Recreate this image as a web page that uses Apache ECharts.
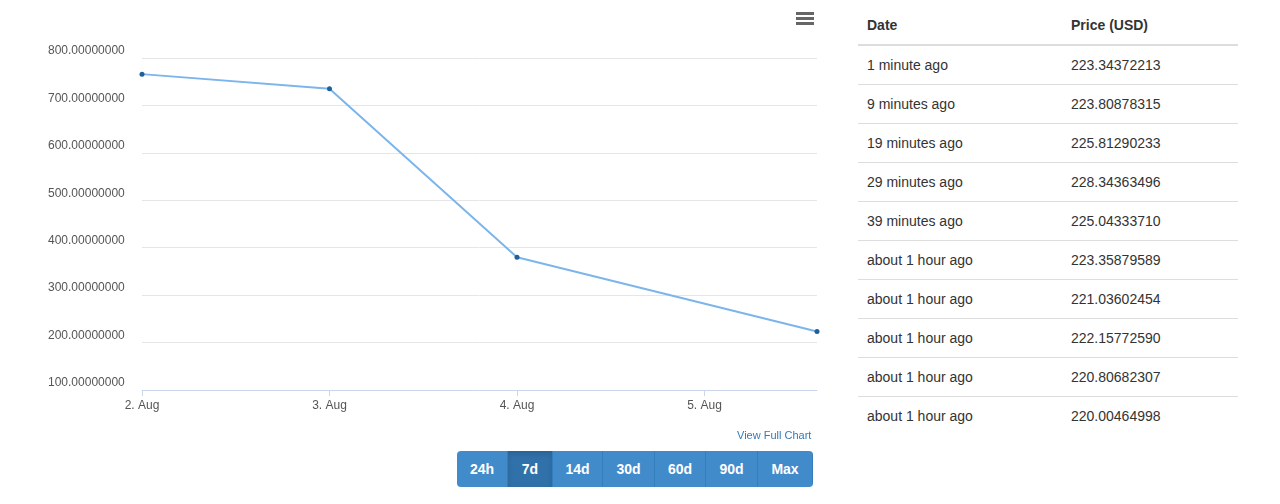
<!DOCTYPE html>
<html><head><meta charset="utf-8">
<script src="https://cdn.jsdelivr.net/npm/echarts@6/dist/echarts.min.js"></script>
<style>
body{margin:0;font-family:"Liberation Sans",Arial,sans-serif;color:#333;background:#fff}
#chart{position:absolute;left:0;top:0;width:830px;height:504px}
#menu{position:absolute;left:796px;top:12px;width:18px}
#menu div{height:3px;background:#666;margin-bottom:2px}
#link{position:absolute;left:737px;top:429px;font-size:11px;color:#337ab7}
#btns{position:absolute;left:457px;top:451px;display:flex;border-radius:4px;overflow:hidden}
#btns div{height:36px;line-height:36px;text-align:center;color:#fff;font-size:14px;font-weight:bold;background:#428bca;border-right:1px solid #357ebd;box-sizing:border-box}
#btns div.on{background:#3071a9;box-shadow:inset 0 3px 5px rgba(0,0,0,.125)}
table{position:absolute;left:858px;top:6px;width:380px;border-collapse:collapse;font-size:14px}
th{text-align:left;padding:10px 9px;border-bottom:2px solid #ddd;height:18px}
td{padding:10px 9px;border-top:1px solid #ddd;height:18px}
</style></head><body>
<div id="chart"></div>
<div id="menu"><div></div><div></div><div></div></div>
<div id="link">View Full Chart</div>
<div id="btns"></div>
<table id="tbl"><thead><tr><th style="width:186px">Date</th><th>Price (USD)</th></tr></thead><tbody></tbody></table>
<script>
var dayLabels = ['2. Aug', '3. Aug', '4. Aug', '5. Aug'];
var dayPos = [0, 1, 2, 3.6];
var prices = [766, 735, 380, 223.34];
var rangeButtons = ['24h', '7d', '14d', '30d', '60d', '90d', 'Max'];
var buttonWidths = [51, 45, 50, 52, 51, 52, 55];
var tableDates = ['1 minute ago', '9 minutes ago', '19 minutes ago', '29 minutes ago', '39 minutes ago',
	'about 1 hour ago', 'about 1 hour ago', 'about 1 hour ago', 'about 1 hour ago', 'about 1 hour ago'];
var tablePrices = ['223.34372213', '223.80878315', '225.81290233', '228.34363496', '225.04333710',
	'223.35879589', '221.03602454', '222.15772590', '220.80682307', '220.00464998'];

var btns = document.getElementById('btns');
rangeButtons.forEach(function (b, i) {
	var d = document.createElement('div');
	d.textContent = b;
	d.style.width = buttonWidths[i] + 'px';
	if (b === '7d') d.className = 'on';
	btns.appendChild(d);
});
var tb = document.querySelector('#tbl tbody');
tableDates.forEach(function (d, i) {
	var tr = document.createElement('tr');
	tr.innerHTML = '<td>' + d + '</td><td>' + tablePrices[i] + '</td>';
	tb.appendChild(tr);
});

var myChart = echarts.init(document.getElementById('chart'));
option = {
	animation: false,
	grid: {left: 142, right: 13, top: 58, bottom: 114},
	xAxis: {
		type: 'value', min: 0, max: 3.6, interval: 1,
		axisLine: {lineStyle: {color: '#ccd6eb'}},
		axisTick: {show: true, length: 6, lineStyle: {color: '#ccd6eb'}},
		splitLine: {show: false},
		axisLabel: {
			color: '#555', fontSize: 12, margin: 10, showMaxLabel: false,
			formatter: function (v) { return dayLabels[Math.round(v)] || ''; }
		}
	},
	yAxis: {
		type: 'value', min: 100, max: 800, interval: 100,
		axisLine: {show: false},
		axisTick: {show: false},
		axisLabel: {
			color: '#555', fontSize: 12, margin: 94, align: 'left', verticalAlign: 'bottom',
			padding: [0, 0, 1, 0],
			formatter: function (v) { return v.toFixed(8); }
		},
		splitLine: {lineStyle: {color: '#e6e6e6'}}
	},
	series: [{
		type: 'line',
		data: dayPos.map(function (x, i) { return [x, prices[i]]; }),
		symbol: 'circle', symbolSize: 5,
		lineStyle: {color: '#7cb5ec', width: 2},
		itemStyle: {color: '#1f5f9c'}
	}]
};
myChart.setOption(option);
</script>
</body></html>
